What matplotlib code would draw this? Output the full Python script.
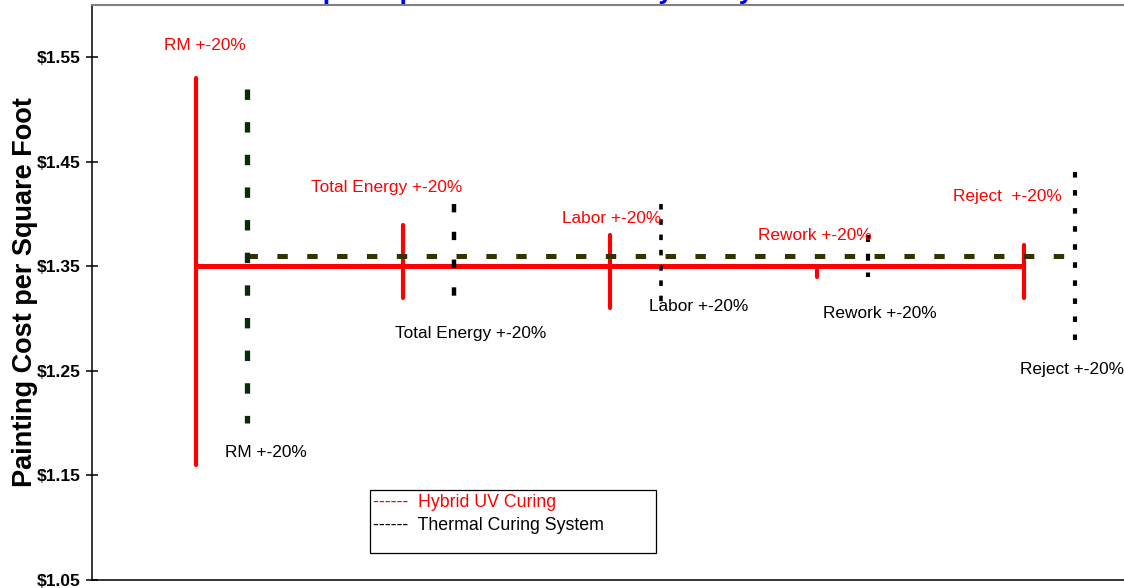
import numpy as np
import matplotlib
matplotlib.use("Agg")
import matplotlib.pyplot as plt
from matplotlib.patches import Rectangle
from matplotlib.ticker import FixedLocator, FuncFormatter

plt.rcParams['font.family'] = ['Liberation Sans', 'DejaVu Sans']
plt.rcParams['lines.scale_dashes'] = False

# Sensitivity of painting cost to +/-20% changes in each input
categories = ["RM", "Total Energy", "Labor", "Rework", "Reject"]
hybrid_base = 1.35
thermal_base = 1.36
hybrid_low = [1.16, 1.32, 1.31, 1.34, 1.32]
hybrid_high = [1.53, 1.39, 1.38, 1.35, 1.37]
thermal_low = [1.20, 1.31, 1.31, 1.34, 1.28]
thermal_high = [1.52, 1.41, 1.41, 1.38, 1.44]
hybrid_labels = ["RM +-20%", "Total Energy +-20%", "Labor +-20%", "Rework +-20%", "Reject  +-20%"]
thermal_labels = ["RM +-20%", "Total Energy +-20%", "Labor +-20%", "Rework +-20%", "Reject +-20%"]
y_ticks = [1.05, 1.15, 1.25, 1.35, 1.45, 1.55]
legend_labels = ["------  Hybrid UV Curing", "------  Thermal Curing System"]

RED = "#ff0000"
OLIVE = "#333300"
LABEL_SIZE = 12.4

fig = plt.figure(figsize=(11.24, 5.88), dpi=100)
ax = fig.add_axes([0.0819, 0.0136, 0.9208, 0.9779])
ax.set_xlim(0.5, 5.5)
ax.set_ylim(1.05, 1.60)

x = np.arange(1, len(categories) + 1)
xt = x + 0.25

# Base-case cost lines
ax.plot([x[0], x[-1]], [hybrid_base, hybrid_base], color=RED, lw=3.6,
        solid_capstyle='butt', zorder=3)
ax.plot([xt[0], xt[-1]], [thermal_base, thermal_base], color=OLIVE, lw=3.6,
        dashes=(7.5, 14), zorder=4)

# Hybrid UV ranges
for xi, lo, hi in zip(x, hybrid_low, hybrid_high):
    ax.plot([xi, xi], [lo, hi], color=RED, lw=3.0, solid_capstyle='round', zorder=3)

# Thermal curing ranges
thermal_styles = [
    dict(color="#0a2a0a", lw=3.8, dashes=(7.5, 16)),
    dict(color="black", lw=3.2, dashes=(6, 14)),
    dict(color="black", lw=2.6, dashes=(4, 7)),
    dict(color="black", lw=3.0, dashes=(5, 8.5)),
    dict(color="black", lw=3.0, dashes=(4, 9)),
]
for xi, lo, hi, st in zip(xt, thermal_low, thermal_high, thermal_styles):
    ax.plot([xi, xi], [hi, lo], zorder=5, **st)

# Range labels
hybrid_label_pos = [(1.046, 1.561), (1.925, 1.425), (3.012, 1.396), (3.993, 1.380), (4.920, 1.417)]
thermal_label_pos = [(1.341, 1.1715), (2.331, 1.286), (3.428, 1.312), (4.307, 1.3045), (5.234, 1.251)]
for txt, (px, py) in zip(hybrid_labels, hybrid_label_pos):
    ax.text(px, py, txt, color=RED, fontsize=LABEL_SIZE, ha='center', va='center', zorder=6)
for txt, (px, py) in zip(thermal_labels, thermal_label_pos):
    ax.text(px, py, txt, color="black", fontsize=LABEL_SIZE, ha='center', va='center', zorder=6)

# Axes styling
ax.spines['right'].set_visible(False)
ax.spines['top'].set_color("#808080")
ax.spines['top'].set_linewidth(1.5)
ax.spines['left'].set_linewidth(1.1)
ax.spines['bottom'].set_linewidth(1.1)
ax.set_xticks([])
ax.yaxis.set_major_locator(FixedLocator(y_ticks))
ax.yaxis.set_major_formatter(FuncFormatter(lambda v, p: f"${v:.2f}"))
ax.tick_params(axis='y', direction='inout', length=9, width=1.1, pad=4)
for lab in ax.get_yticklabels():
    lab.set_fontweight('bold')
    lab.set_fontsize(12.5)
ax.set_ylabel("Painting Cost per Square Foot", fontsize=19.5, fontweight='bold', labelpad=-1)

# Legend box
ax.add_patch(Rectangle((0.2686, 0.047), 0.2764, 0.1095, transform=ax.transAxes,
                       facecolor='white', edgecolor='black', lw=0.9, zorder=7))
ax.text(0.2715, 0.134, legend_labels[0], transform=ax.transAxes, color=RED,
        fontsize=12.8, ha='left', va='center', zorder=8)
ax.text(0.2715, 0.094, legend_labels[1], transform=ax.transAxes, color="black",
        fontsize=12.8, ha='left', va='center', zorder=8)

# Chart title (sits above the plotting frame)
fig.text(0.434, 1.0 + 1.5 / 588, "Total Cost per Square Foot Sensitivity Analysis",
         color="#0000ff", fontsize=19.5, fontweight='bold', ha='center', va='baseline')

fig.savefig("out.png", dpi=100)
